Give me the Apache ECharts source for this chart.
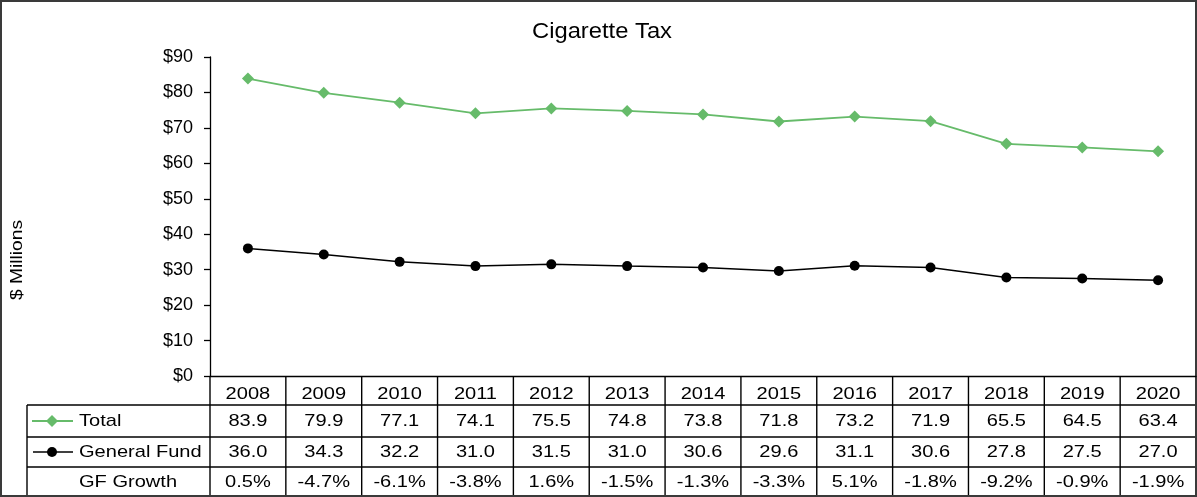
<!DOCTYPE html>
<html><head><meta charset="utf-8">
<script src="https://cdn.jsdelivr.net/npm/echarts@6/dist/echarts.min.js"></script>
<style>html,body{margin:0;padding:0;background:#fff}#c{width:1197px;height:497px}</style>
</head><body><div id="c"></div>
<script>
const years = ['2008','2009','2010','2011','2012','2013','2014','2015','2016','2017','2018','2019','2020'];
const total = [83.9,79.9,77.1,74.1,75.5,74.8,73.8,71.8,73.2,71.9,65.5,64.5,63.4];
const generalFund = [36.0,34.3,32.2,31.0,31.5,31.0,30.6,29.6,31.1,30.6,27.8,27.5,27.0];
const gfGrowth = ['0.5%','-4.7%','-6.1%','-3.8%','1.6%','-1.5%','-1.3%','-3.3%','5.1%','-1.8%','-9.2%','-0.9%','-1.9%'];
const rowNames = ['Total','General Fund','GF Growth'];

const FONT = '"Liberation Sans", Arial, sans-serif';
const GREEN = '#66bb6a';
const SX = 1.18; // horizontal stretch of text as in reference rendering
const chart = echarts.init(document.getElementById('c'));

chart.setOption({
  animation: false,
  backgroundColor: '#fff',
  grid: { left: 210, right: 1, top: 57, bottom: 121 },
  xAxis: { type: 'category', data: years, boundaryGap: true,
    axisLine: { lineStyle: { color: '#000', width: 1.3 } },
    axisTick: { show: false }, axisLabel: { show: false } },
  yAxis: { type: 'value', min: 0, max: 90, interval: 10,
    axisLine: { show: true, lineStyle: { color: '#000', width: 1.3 } },
    axisTick: { show: true, length: 6, lineStyle: { color: '#000', width: 1.3 } },
    splitLine: { show: false },
    axisLabel: { formatter: v => '$' + v, fontFamily: FONT, fontSize: 18, color: '#000', margin: 17 } },
  series: [
    { name: 'Total', type: 'line', data: total, symbol: 'diamond', symbolSize: 12,
      lineStyle: { color: GREEN, width: 1.8 }, itemStyle: { color: GREEN } },
    { name: 'General Fund', type: 'line', data: generalFund, symbol: 'circle', symbolSize: 10,
      lineStyle: { color: '#000', width: 1.5 }, itemStyle: { color: '#000' } }
  ]
});

function txt(x, y, t, size, align, extra) {
  return Object.assign({ type: 'text', x: x, y: y, scaleX: SX, silent: true,
    style: { text: t, font: size + 'px ' + FONT, fill: '#000', textAlign: align, textVerticalAlign: 'middle' } }, extra || {});
}

// Build data table below the plot from the axis scale
const rowTops = [376, 405, 437, 467, 496];
const rowMid = [394, 421, 452, 482];
const L = 27, RIGHT = 1196;
const g = [];
const centers = years.map((y, i) => chart.convertToPixel({ xAxisIndex: 0 }, i));
const band = centers.length > 1 ? centers[1] - centers[0] : 75;
const lineStyle = { stroke: '#000', lineWidth: 1.4 };
for (let r = 1; r < rowTops.length; r++) {
  g.push({ type: 'line', shape: { x1: L, y1: rowTops[r], x2: RIGHT, y2: rowTops[r] }, style: lineStyle, silent: true });
}
g.push({ type: 'line', shape: { x1: L, y1: rowTops[1], x2: L, y2: rowTops[4] }, style: lineStyle });
for (let i = 0; i <= years.length; i++) {
  const x = i < years.length ? centers[i] - band / 2 : centers[years.length - 1] + band / 2;
  g.push({ type: 'line', shape: { x1: x, y1: rowTops[0], x2: x, y2: rowTops[4] }, style: lineStyle });
}
const rows = [years, total.map(v => v.toFixed(1)), generalFund.map(v => v.toFixed(1)), gfGrowth];
rows.forEach((row, r) => {
  row.forEach((t, i) => g.push(txt(centers[i], rowMid[r], t, 17, 'center')));
});
rowNames.forEach((n, k) => g.push(txt(79, rowMid[k + 1], n, 17, 'left')));
{
  const cy1 = (rowTops[1] + rowTops[2]) / 2;
  g.push({ type: 'line', shape: { x1: 32, y1: cy1, x2: 73, y2: cy1 }, style: { stroke: GREEN, lineWidth: 1.8 } });
  g.push({ type: 'polygon', shape: { points: [[52, cy1 - 6], [58, cy1], [52, cy1 + 6], [46, cy1]] }, style: { fill: GREEN } });
  const cy2 = (rowTops[2] + rowTops[3]) / 2;
  g.push({ type: 'line', shape: { x1: 33, y1: cy2, x2: 73, y2: cy2 }, style: { stroke: '#000', lineWidth: 1.5 } });
  g.push({ type: 'circle', shape: { cx: 52, cy: cy2, r: 5 }, style: { fill: '#000' } });
}
// title
g.push(txt(602, 32, 'Cigarette Tax', 22, 'center', { scaleX: 1.08 }));
// y-axis title
g.push(txt(18, 260, '$ Millions', 16, 'center', { rotation: Math.PI / 2, scaleX: 1.2 }));
// outer border
g.push({ type: 'rect', shape: { x: 1, y: 1, width: 1195, height: 495 }, style: { fill: 'none', stroke: '#3a3a3a', lineWidth: 2 } });

chart.setOption({ graphic: g });
</script>
</body></html>
